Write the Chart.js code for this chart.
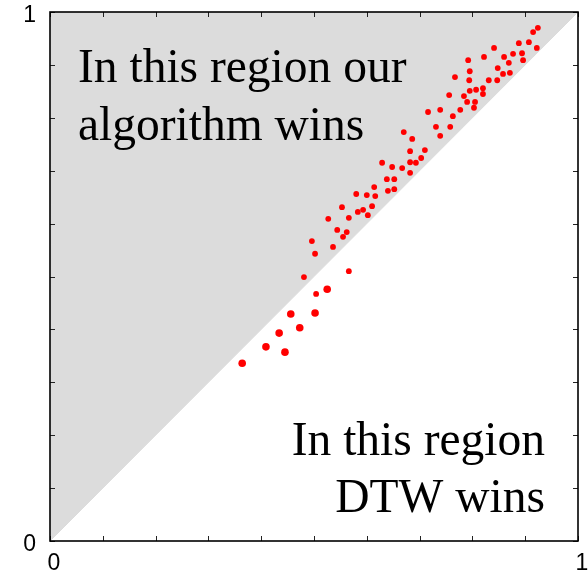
<!DOCTYPE html>
<html>
<head>
<meta charset="utf-8">
<script src="https://cdn.jsdelivr.net/npm/chart.js@4"></script>
<style>
  body { margin: 0; background: #fff; }
  canvas { display: block; }
</style>
</head>
<body>
<canvas id="view-canvas" width="588" height="570"></canvas>
<script>
// axis range and labelled ticks
var axisMin = 0;
var axisMax = 1;
var tickStep = 0.1;
var tickLabels = ['0', '1'];

// the diagonal y = x splitting the two regions
var diagX = [0, 1];
var diagY = [0, 1];

// small dots
var smallX = [0.566, 0.527, 0.544, 0.562, 0.555, 0.496, 0.536, 0.502, 0.566, 0.481, 0.504,
    0.614, 0.616, 0.600, 0.580, 0.610, 0.593, 0.583, 0.602, 0.553,
    0.790, 0.805, 0.716, 0.739, 0.763, 0.777, 0.803, 0.731, 0.758, 0.739,
    0.670, 0.686, 0.682, 0.710, 0.703, 0.682, 0.693, 0.629, 0.648, 0.667,
    0.682, 0.638, 0.652, 0.640, 0.652,
    0.924, 0.915, 0.888, 0.907, 0.922, 0.841, 0.822, 0.792, 0.860, 0.877,
    0.894, 0.896, 0.869, 0.848, 0.795, 0.767, 0.794, 0.831, 0.847, 0.871,
    0.858, 0.820, 0.820, 0.807, 0.795, 0.756, 0.784];
var smallY = [0.611, 0.609, 0.588, 0.584, 0.575, 0.567, 0.556, 0.543, 0.510, 0.499, 0.467,
    0.669, 0.652, 0.654, 0.656, 0.633, 0.626, 0.622, 0.616, 0.631,
    0.830, 0.830, 0.811, 0.815, 0.803, 0.815, 0.819, 0.783, 0.783, 0.766,
    0.773, 0.760, 0.737, 0.739, 0.724, 0.716, 0.715, 0.715, 0.707, 0.705,
    0.696, 0.684, 0.684, 0.662, 0.665,
    0.970, 0.962, 0.941, 0.943, 0.932, 0.932, 0.915, 0.909, 0.915, 0.921,
    0.922, 0.909, 0.904, 0.894, 0.888, 0.877, 0.871, 0.871, 0.871, 0.885,
    0.883, 0.856, 0.845, 0.853, 0.851, 0.843, 0.841];

// bigger dots, lower left
var largeX = [0.525, 0.456, 0.502, 0.473, 0.434, 0.409, 0.445, 0.364];
var largeY = [0.476, 0.429, 0.431, 0.403, 0.393, 0.367, 0.357, 0.336];

function toPoints(xs, ys) {
    return xs.map(function (x, i) { return { x: x, y: ys[i] }; });
}

// frame, inward tick marks and the two captions
var framePlugin = {
    id: 'frame',
    afterDraw: function (chart) {
        var ctx = chart.ctx;
        var a = chart.chartArea;
        var xs = chart.scales.x, ys = chart.scales.y;
        var len = 5;
        ctx.save();
        ctx.strokeStyle = '#222';
        ctx.lineWidth = 1;
        ctx.beginPath();
        xs.ticks.forEach(function (t) {
            var px = Math.round(xs.getPixelForValue(t.value)) + 0.5;
            ctx.moveTo(px, a.bottom); ctx.lineTo(px, a.bottom - len);
            ctx.moveTo(px, a.top); ctx.lineTo(px, a.top + len);
        });
        ys.ticks.forEach(function (t) {
            var py = Math.round(ys.getPixelForValue(t.value)) + 0.5;
            ctx.moveTo(a.left, py); ctx.lineTo(a.left + len, py);
            ctx.moveTo(a.right, py); ctx.lineTo(a.right - len, py);
        });
        ctx.stroke();

        ctx.strokeStyle = '#000';
        ctx.lineWidth = 1.6;
        ctx.strokeRect(a.left, a.top, a.right - a.left, a.bottom - a.top);

        ctx.fillStyle = '#000';
        ctx.font = '47.5px "Liberation Serif", "Times New Roman", serif';
        ctx.textBaseline = 'alphabetic';
        ctx.textAlign = 'left';
        ctx.fillText('In this region our', a.left + 28, a.top + 70);
        ctx.fillText('algorithm wins', a.left + 28, a.top + 128);
        ctx.textAlign = 'right';
        ctx.fillText('In this region', a.right - 33, a.top + 443);
        ctx.fillText('DTW wins', a.right - 33, a.top + 500);
        ctx.restore();
    }
};

function tickCallback(value) {
    if (Math.abs(value - axisMin) < 1e-9) return tickLabels[0];
    if (Math.abs(value - axisMax) < 1e-9) return tickLabels[1];
    return '';
}

// keep the plot box fixed, whatever room the end labels ask for
function noPadding(s) {
    s.paddingTop = 0;
    s.paddingBottom = 0;
    s.paddingLeft = 0;
    s.paddingRight = 0;
}

var myChart = new Chart(document.getElementById('view-canvas'), {
    type: 'scatter',
    data: {
        datasets: [{
            data: toPoints(smallX, smallY),
            backgroundColor: '#ff0000',
            borderWidth: 0,
            pointRadius: 2.9,
            order: 0
        }, {
            data: toPoints(largeX, largeY),
            backgroundColor: '#ff0000',
            borderWidth: 0,
            pointRadius: 3.8,
            order: 0
        }, {
            type: 'line',
            data: toPoints(diagX, diagY),
            borderColor: '#dcdcdc',
            borderWidth: 1,
            backgroundColor: '#dcdcdc',
            fill: 'end',
            pointRadius: 0,
            order: 5
        }]
    },
    options: {
        responsive: false,
        animation: false,
        devicePixelRatio: 1,
        layout: { padding: { top: 12, right: 10, left: 0, bottom: 0 } },
        plugins: { legend: { display: false }, tooltip: { enabled: false } },
        scales: {
            x: {
                type: 'linear',
                min: axisMin,
                max: axisMax,
                grid: { display: false, drawTicks: false },
                border: { display: false },
                ticks: {
                    stepSize: tickStep,
                    autoSkip: false,
                    maxRotation: 0,
                    padding: 9,
                    labelOffset: 4,
                    color: '#000',
                    font: { family: 'Liberation Sans', size: 23 },
                    callback: tickCallback
                },
                afterFit: function (s) { s.height = 29; noPadding(s); }
            },
            y: {
                type: 'linear',
                min: axisMin,
                max: axisMax,
                grid: { display: false, drawTicks: false },
                border: { display: false },
                ticks: {
                    stepSize: tickStep,
                    autoSkip: false,
                    padding: 14,
                    labelOffset: 4,
                    color: '#000',
                    font: { family: 'Liberation Sans', size: 23 },
                    callback: tickCallback
                },
                afterFit: function (s) { s.width = 50; noPadding(s); }
            }
        }
    },
    plugins: [framePlugin]
});
</script>
</body>
</html>
